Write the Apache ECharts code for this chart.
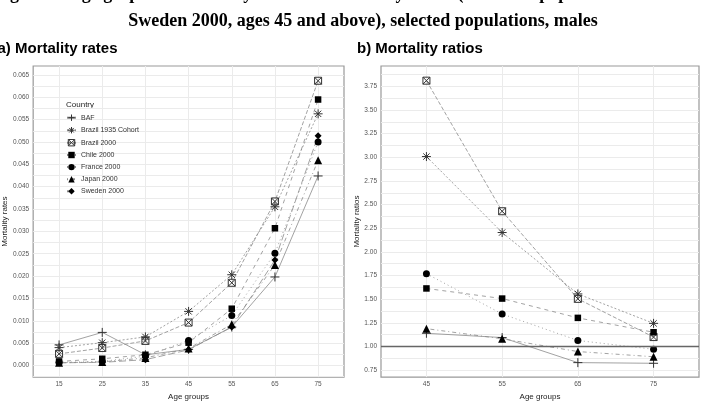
<!DOCTYPE html>
<html>
<head>
<meta charset="utf-8">
<title>Mortality rates and ratios</title>
<script src="https://cdn.jsdelivr.net/npm/echarts@6/dist/echarts.min.js"></script>
<style>
  html, body { margin: 0; padding: 0; background: #fff; }
  #main { width: 702px; height: 406px; }
</style>
</head>
<body>
<div id="main"></div>
<script>
// age groups on the x axes
var ages = [15, 25, 35, 45, 55, 65, 75];
var ratioAges = [45, 55, 65, 75];

// a) mortality rates
var rateBAF      = [0.0046, 0.0074, 0.0024, 0.0036, 0.0086, 0.0198, 0.0424];
var rateBrazil35 = [0.0040, 0.0051, 0.0064, 0.0121, 0.0203, 0.0355, 0.0563];
var rateBrazil00 = [0.0026, 0.0039, 0.0055, 0.0096, 0.0185, 0.0367, 0.0637];
var rateChile    = [0.0009, 0.0015, 0.0024, 0.0051, 0.0127, 0.0307, 0.0595];
var rateFrance   = [0.0007, 0.0009, 0.0021, 0.0056, 0.0112, 0.0251, 0.0500];
var rateJapan    = [0.0006, 0.0008, 0.0017, 0.0038, 0.0092, 0.0225, 0.0459];
var rateSweden   = [0.0006, 0.0007, 0.0013, 0.0035, 0.0086, 0.0236, 0.0514];

// b) mortality ratios (ages 45+)
var ratioBAF      = [1.14, 1.095, 0.83, 0.823];
var ratioBrazil35 = [3.008, 2.205, 1.556, 1.245];
var ratioBrazil00 = [3.81, 2.43, 1.504, 1.10];
var ratioChile    = [1.614, 1.507, 1.303, 1.151];
var ratioFrance   = [1.77, 1.344, 1.064, 0.971];
var ratioJapan    = [1.189, 1.082, 0.947, 0.892];

// tick labels
var rateTicks = [0, 0.005, 0.01, 0.015, 0.02, 0.025, 0.03, 0.035, 0.04, 0.045, 0.05, 0.055, 0.06, 0.065];
var ratioTicks = [0.75, 1, 1.25, 1.5, 1.75, 2, 2.25, 2.5, 2.75, 3, 3.25, 3.5, 3.75];

var names = ['BAF', 'Brazil 1935 Cohort', 'Brazil 2000', 'Chile 2000', 'France 2000', 'Japan 2000', 'Sweden 2000'];

var FONT = '"Liberation Sans", Arial, sans-serif';

// ggplot-like shapes + linetypes
var looks = {
  'BAF':               { symbol: 'path://M0,5L10,5M5,0L5,10', size: 9, fill: 'transparent', dash: 'solid' },
  'Brazil 1935 Cohort':{ symbol: 'path://M0,5L10,5M5,0L5,10M1.5,1.5L8.5,8.5M1.5,8.5L8.5,1.5', size: 9, fill: 'transparent', dash: [2, 2] },
  'Brazil 2000':       { symbol: 'path://M0,0L10,0L10,10L0,10ZM0,0L10,10M10,0L0,10', size: 7, fill: 'transparent', dash: [4, 2] },
  'Chile 2000':        { symbol: 'rect', size: 6.5, fill: '#000', dash: [4, 4] },
  'France 2000':       { symbol: 'circle', size: 7, fill: '#000', dash: [1, 3] },
  'Japan 2000':        { symbol: 'triangle', size: 8, fill: '#000', dash: [1, 3, 4, 3] },
  'Sweden 2000':       { symbol: 'diamond', size: 7, fill: '#000', dash: [7, 3] }
};

function pairs(xs, ys) {
  return xs.map(function (x, i) { return [x, ys[i]]; });
}

function markStyle(name) {
  var lk = looks[name];
  var open = lk.fill === 'transparent';
  return {
    color: lk.fill,
    borderColor: open ? '#333' : '#000',
    borderWidth: open ? 1 : 0
  };
}

function makeSeries(name, xs, ys, idx) {
  var lk = looks[name];
  return {
    name: name,
    type: 'line',
    xAxisIndex: idx,
    yAxisIndex: idx,
    data: pairs(xs, ys),
    symbol: lk.symbol,
    symbolSize: lk.size,
    showSymbol: true,
    silent: true,
    animation: false,
    lineStyle: { color: '#8a8a8a', width: 0.8, type: lk.dash },
    itemStyle: markStyle(name)
  };
}

// minor grid lines sit halfway between labelled ticks
function withMinor(ticks, lo, hi) {
  var out = [];
  var step = ticks[1] - ticks[0];
  var v = ticks[0] - step / 2;
  if (v >= lo) out.push(v);
  ticks.forEach(function (t) {
    out.push(t);
    if (t + step / 2 <= hi) out.push(t + step / 2);
  });
  return out;
}

var rateMin = -0.0026, rateMax = 0.067;
var ratioMin = 0.677, ratioMax = 3.965;

var series = [
  makeSeries('BAF', ages, rateBAF, 0),
  makeSeries('Brazil 1935 Cohort', ages, rateBrazil35, 0),
  makeSeries('Brazil 2000', ages, rateBrazil00, 0),
  makeSeries('Chile 2000', ages, rateChile, 0),
  makeSeries('France 2000', ages, rateFrance, 0),
  makeSeries('Japan 2000', ages, rateJapan, 0),
  makeSeries('Sweden 2000', ages, rateSweden, 0),
  makeSeries('BAF', ratioAges, ratioBAF, 1),
  makeSeries('Brazil 1935 Cohort', ratioAges, ratioBrazil35, 1),
  makeSeries('Brazil 2000', ratioAges, ratioBrazil00, 1),
  makeSeries('Chile 2000', ratioAges, ratioChile, 1),
  makeSeries('France 2000', ratioAges, ratioFrance, 1),
  makeSeries('Japan 2000', ratioAges, ratioJapan, 1)
];

// reference line at ratio 1
series[7].markLine = {
  silent: true,
  symbol: 'none',
  label: { show: false },
  lineStyle: { color: '#666', width: 1.3, type: 'solid' },
  data: [{ yAxis: 1 }]
};

function xAxisOf(idx, min, max, ticks) {
  return {
    gridIndex: idx,
    type: 'value',
    min: min,
    max: max,
    axisLine: { show: false },
    axisTick: { show: false, customValues: ticks },
    axisLabel: { customValues: ticks, fontSize: 6.5, color: '#555', margin: 4, fontFamily: FONT },
    splitLine: { show: true, lineStyle: { color: '#ebebeb', width: 1 } },
    name: 'Age groups',
    nameLocation: 'middle',
    nameGap: 13,
    nameTextStyle: { fontSize: 8, color: '#222', fontFamily: FONT }
  };
}

function yAxisOf(idx, min, max, ticks, digits, title, gap) {
  return {
    gridIndex: idx,
    type: 'value',
    min: min,
    max: max,
    axisLine: { show: false },
    axisTick: { show: false, customValues: withMinor(ticks, min, max) },
    axisLabel: {
      customValues: ticks, fontSize: 6.5, color: '#555', margin: 4, fontFamily: FONT,
      formatter: function (v) { return v.toFixed(digits); }
    },
    splitLine: { show: true, lineStyle: { color: '#ebebeb', width: 1 } },
    name: title,
    nameLocation: 'middle',
    nameGap: gap,
    nameTextStyle: { fontSize: 8, color: '#222', fontFamily: FONT }
  };
}

var chart = echarts.init(document.getElementById('main'), null, { renderer: 'canvas' });

chart.setOption({
  backgroundColor: '#fff',
  animation: false,
  grid: [
    { left: 31, top: 66, width: 313, height: 317, show: true, borderColor: '#999', borderWidth: 1.2 },
    { left: 381, top: 66, width: 318, height: 317, show: true, borderColor: '#999', borderWidth: 1.2 }
  ],
  xAxis: [
    xAxisOf(0, 9, 81, ages),
    xAxisOf(1, 39, 81, ratioAges)
  ],
  yAxis: [
    yAxisOf(0, rateMin, rateMax, rateTicks, 3, 'Mortality rates', 22),
    yAxisOf(1, ratioMin, ratioMax, ratioTicks, 2, 'Mortality ratios', 17)
  ],
  legend: {
    orient: 'vertical',
    left: 66,
    top: 114,
    padding: 0,
    itemWidth: 9,
    itemHeight: 8,
    itemGap: 5.1,
    data: names.map(function (n) { return { name: n, itemStyle: markStyle(n) }; }),
    selectedMode: false,
    textStyle: { fontSize: 7, color: '#333', fontFamily: FONT }
  },
  graphic: [
    { type: 'text', x: -6, y: 3, silent: true,
      style: { text: 'Figure 3: Age graphs of mortality rates and mortality ratios (reference population:',
               font: 'bold 18px "Liberation Serif", "Times New Roman", serif', fill: '#000',
               textAlign: 'left', textVerticalAlign: 'bottom', align: 'left', verticalAlign: 'bottom' } },
    { type: 'text', x: 363, y: 21, silent: true,
      style: { text: 'Sweden 2000, ages 45 and above), selected populations, males',
               font: 'bold 18px "Liberation Serif", "Times New Roman", serif', fill: '#000',
               textAlign: 'center', textVerticalAlign: 'middle', align: 'center', verticalAlign: 'middle' } },
    { type: 'text', x: -2.5, y: 49, silent: true,
      style: { text: 'a) Mortality rates', font: 'bold 15px ' + FONT, fill: '#000',
               textVerticalAlign: 'middle', verticalAlign: 'middle' } },
    { type: 'text', x: 357, y: 49, silent: true,
      style: { text: 'b) Mortality ratios', font: 'bold 15px ' + FONT, fill: '#000',
               textVerticalAlign: 'middle', verticalAlign: 'middle' } },
    { type: 'text', x: 66, y: 105, silent: true,
      style: { text: 'Country', font: '8px ' + FONT, fill: '#222',
               textVerticalAlign: 'middle', verticalAlign: 'middle' } }
  ],
  series: series
});
</script>
</body>
</html>
